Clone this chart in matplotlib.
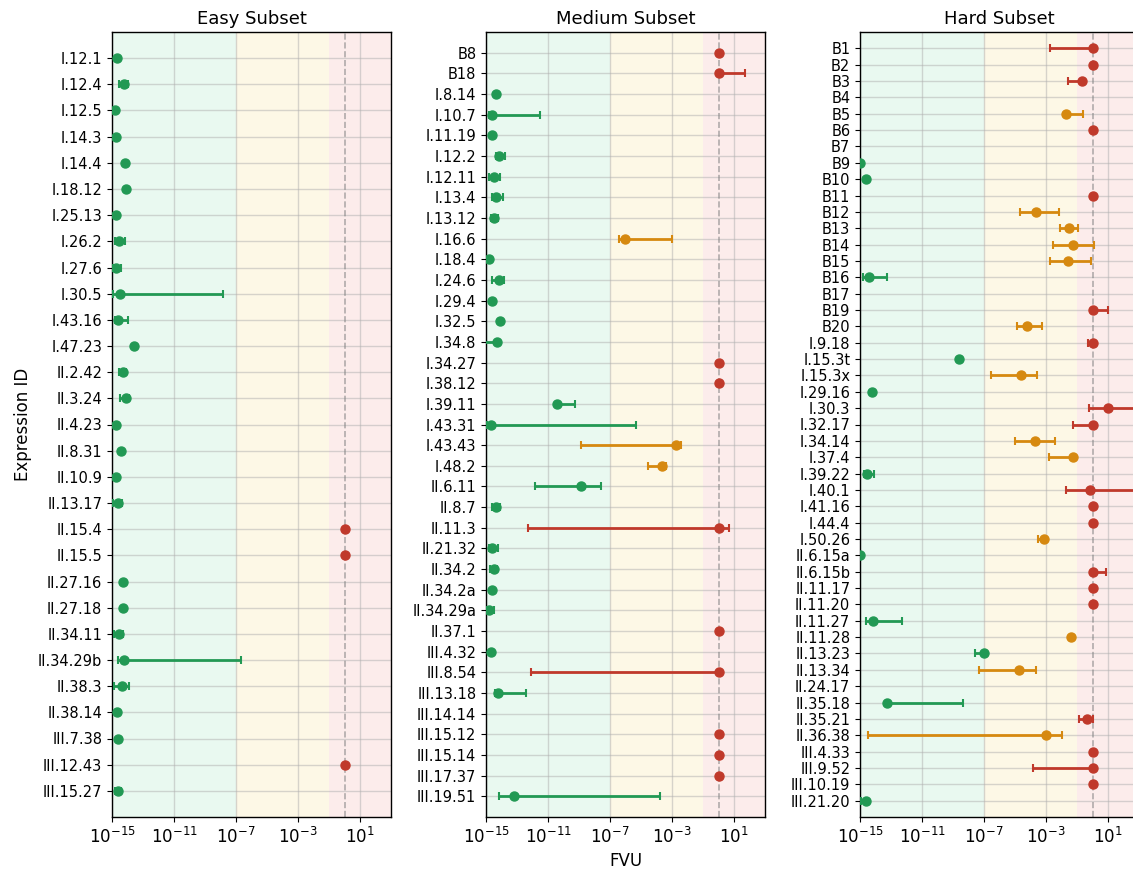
import matplotlib
matplotlib.use("Agg")
import matplotlib.pyplot as plt
from matplotlib.ticker import NullLocator

# colours for the three FVU regions
GREEN = "#229954"
ORANGE = "#d68910"
RED = "#c0392b"

# values are log10(FVU); None = no value / no error bar
easy_labels = ["I.12.1", "I.12.4", "I.12.5", "I.14.3", "I.14.4", "I.18.12", "I.25.13",
               "I.26.2", "I.27.6", "I.30.5", "I.43.16", "I.47.23", "II.2.42", "II.3.24",
               "II.4.23", "II.8.31", "II.10.9", "II.13.17", "II.15.4", "II.15.5",
               "II.27.16", "II.27.18", "II.34.11", "II.34.29b", "II.38.3", "II.38.14",
               "III.7.38", "III.12.43", "III.15.27"]
easy_fvu = [-14.66, -14.23, -14.79, -14.72, -14.16, -14.12, -14.72, -14.53, -14.74, -14.48,
            -14.61, -13.58, -14.31, -14.08, -14.74, -14.44, -14.74, -14.61, 0.0, 0.0,
            -14.31, -14.27, -14.53, -14.25, -14.35, -14.66, -14.60, 0.0, -14.60]
easy_lo = [None, -14.53, None, None, None, None, None, -14.80, -14.95, -14.95,
           -14.80, None, -14.55, -14.48, None, None, None, -14.95, None, None,
           None, None, -14.85, -14.63, -14.85, None, None, None, -14.80]
easy_hi = [None, -13.97, None, None, None, None, None, -14.16, -14.44, -7.84,
           -13.97, None, -14.10, -13.90, None, None, None, -14.37, None, None,
           None, None, -14.31, -6.70, -13.90, None, None, None, -14.40]

medium_labels = ["B8", "B18", "I.8.14", "I.10.7", "I.11.19", "I.12.2", "I.12.11", "I.13.4",
                 "I.13.12", "I.16.6", "I.18.4", "I.24.6", "I.29.4", "I.32.5", "I.34.8",
                 "I.34.27", "I.38.12", "I.39.11", "I.43.31", "I.43.43", "I.48.2", "II.6.11",
                 "II.8.7", "II.11.3", "II.21.32", "II.34.2", "II.34.2a", "II.34.29a",
                 "II.37.1", "III.4.32", "III.8.54", "III.13.18", "III.14.14", "III.15.12",
                 "III.15.14", "III.17.37", "III.19.51"]
medium_fvu = [0.0, 0.0, -14.35, -14.61, -14.61, -14.18, -14.48, -14.37, -14.46, -6.05,
              -14.78, -14.16, -14.61, -14.07, -14.27, 0.0, 0.0, -10.40, -14.70, -2.75,
              -3.67, -8.87, -14.35, 0.0, -14.63, -14.48, -14.59, -14.83, 0.0, -14.65,
              0.0, -14.20, None, 0.0, 0.0, 0.0, -13.17]
medium_lo = [None, None, None, -14.83, None, -14.35, -14.78, -14.61, -14.70, -6.43,
             None, -14.63, None, None, -15.50, None, None, None, -14.92, -8.87,
             -4.58, -11.85, -14.61, -12.32, -14.83, -14.74, None, -14.96, None, None,
             -12.11, -14.39, None, None, None, None, -14.18]
medium_hi = [None, 1.72, None, -11.50, None, -13.75, -14.09, -13.88, -14.20, -3.03,
             None, -13.86, None, None, None, None, None, -9.26, -5.31, -2.40,
             -3.37, -7.56, -14.12, 0.69, -14.22, -14.27, None, -14.46, None, None,
             None, -12.39, None, None, None, None, -3.76]

hard_labels = ["B1", "B2", "B3", "B4", "B5", "B6", "B7", "B9", "B10", "B11", "B12", "B13",
               "B14", "B15", "B16", "B17", "B19", "B20", "I.9.18", "I.15.3t", "I.15.3x",
               "I.29.16", "I.30.3", "I.32.17", "I.34.14", "I.37.4", "I.39.22", "I.40.1",
               "I.41.16", "I.44.4", "I.50.26", "II.6.15a", "II.6.15b", "II.11.17",
               "II.11.20", "II.11.27", "II.11.28", "II.13.23", "II.13.34", "II.24.17",
               "II.35.18", "II.35.21", "II.36.38", "III.4.33", "III.9.52", "III.10.19",
               "III.21.20"]
hard_fvu = [0.0, 0.0, -0.66, None, -1.69, 0.0, None, -15.0, -14.63, 0.0, -3.62, -1.52,
            -1.26, -1.56, -14.44, None, 0.0, -4.25, 0.0, -8.59, -4.61,
            -14.23, 0.98, 0.0, -3.73, -1.26, -14.55, -0.14,
            0.0, 0.0, -3.13, -15.0, 0.0, 0.0,
            0.0, -14.14, -1.39, -7.03, -4.72, None,
            -13.26, -0.38, -3.00, 0.0, 0.0, 0.0,
            -14.61]
hard_lo = [-2.74, None, -1.60, None, None, None, None, None, None, None, -4.66, -2.08,
           -2.55, -2.74, -14.78, None, None, -4.85, -0.32, None, -6.57,
           None, -0.25, -1.24, -5.00, -2.83, -14.74, -1.73,
           None, None, -3.54, None, None, None,
           None, -14.63, None, -7.60, -7.32, None,
           None, -0.85, -14.50, None, -3.86, None,
           -14.94]
hard_hi = [None, None, None, None, -0.60, None, None, None, None, None, -2.16, -0.94,
           0.10, -0.07, -13.28, None, 1.02, -3.28, None, None, -3.60,
           None, 3.50, None, -2.42, None, -14.12, 3.50,
           None, None, None, None, 0.89, None,
           None, -12.29, None, None, -3.65, None,
           -8.33, 0.00, -1.95, None, None, None,
           None]


def region_colour(v):
    if v < 1e-7:
        return GREEN
    if v < 1e-1:
        return ORANGE
    return RED


def draw_panel(ax, title, labels, fvu, lo, hi):
    n = len(labels)
    ax.axvspan(1e-15, 1e-7, color="#2ecc71", alpha=0.1, lw=0, zorder=0)
    ax.axvspan(1e-7, 1e-1, color="#f1c40f", alpha=0.1, lw=0, zorder=0)
    ax.axvspan(1e-1, 1e3, color="#e74c3c", alpha=0.1, lw=0, zorder=0)
    ax.axvline(1.0, color="gray", ls="--", lw=1.2, alpha=0.6, zorder=1)

    for i, c in enumerate(fvu):
        if c is None:
            continue
        v = 10.0 ** c
        col = region_colour(v)
        if lo[i] is None and hi[i] is None:
            ax.plot(v, i, "o", color=col, ms=6.5, zorder=3)
            continue
        l = 10.0 ** lo[i] if lo[i] is not None else v
        h = 10.0 ** hi[i] if hi[i] is not None else v
        ax.errorbar(v, i, xerr=[[v - l], [h - v]], fmt="o", color=col, ms=6.5,
                    elinewidth=2, capsize=3, capthick=1.5, zorder=3)

    ax.set_xscale("log")
    ax.set_xlim(1e-15, 1e3)
    ax.set_xticks([1e-15, 1e-11, 1e-7, 1e-3, 1e1])
    ax.xaxis.set_minor_locator(NullLocator())
    ax.set_yticks(range(n))
    ax.set_yticklabels(labels, fontsize=10.5)
    ax.set_ylim(n, -1)
    ax.tick_params(axis="x", labelsize=12)
    ax.grid(True, color="#b0b0b0", alpha=0.5, lw=1, zorder=1)
    ax.set_axisbelow(True)
    for s in ax.spines.values():
        s.set_linewidth(1.0)
    ax.set_title(title, fontsize=13)


fig = plt.figure(figsize=(11.33, 8.75), dpi=100)
W, H = 1133.0, 875.0
ax_easy = fig.add_axes([112 / W, 58 / H, 279 / W, 785 / H])
ax_med = fig.add_axes([486 / W, 58 / H, 279 / W, 785 / H])
ax_hard = fig.add_axes([860 / W, 58 / H, 279 / W, 785 / H])

draw_panel(ax_easy, "Easy Subset", easy_labels, easy_fvu, easy_lo, easy_hi)
draw_panel(ax_med, "Medium Subset", medium_labels, medium_fvu, medium_lo, medium_hi)
draw_panel(ax_hard, "Hard Subset", hard_labels, hard_fvu, hard_lo, hard_hi)

ax_easy.set_ylabel("Expression ID", fontsize=12)
ax_med.set_xlabel("FVU", fontsize=12)

fig.savefig("out.png", dpi=100)
